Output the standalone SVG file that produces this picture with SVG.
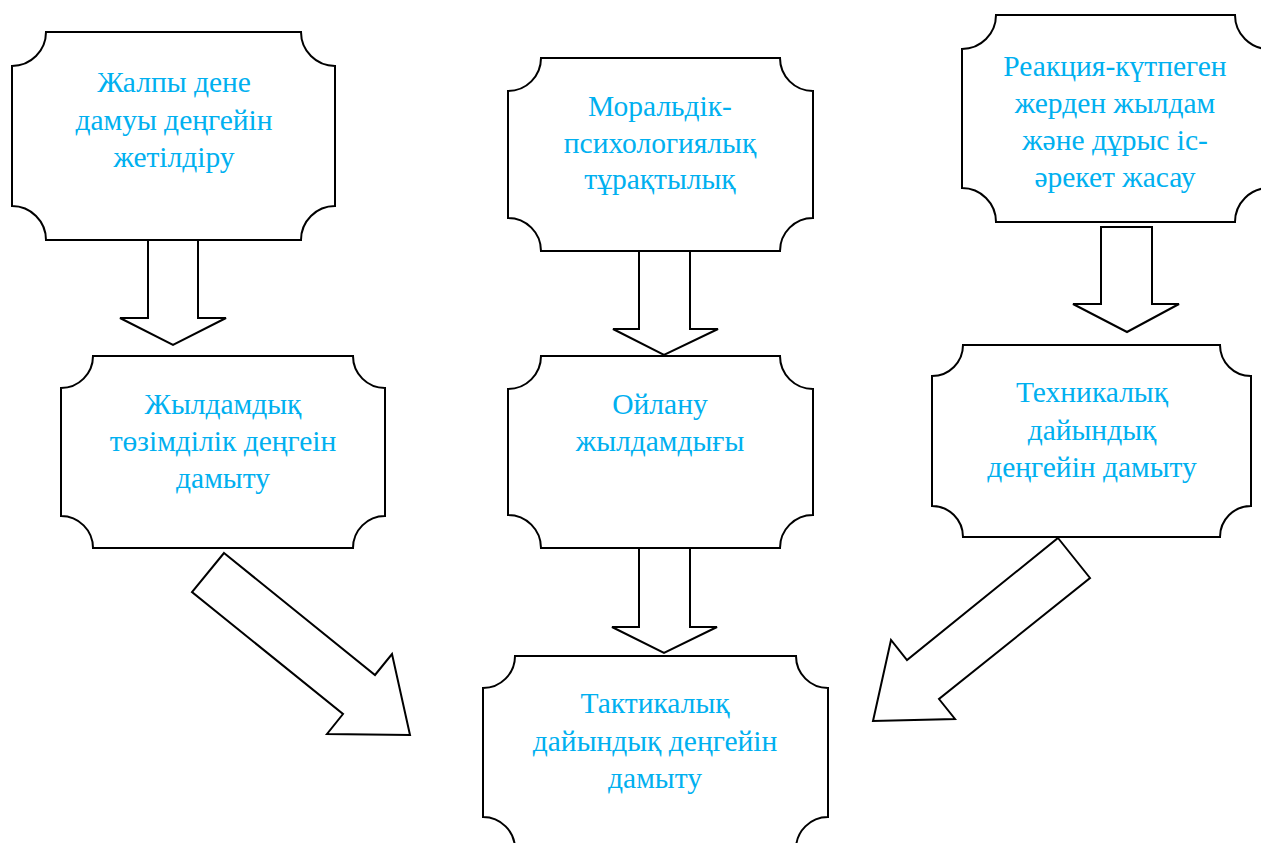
<svg xmlns="http://www.w3.org/2000/svg" width="1261" height="843" viewBox="0 0 1261 843">
<style>
.box{fill:#fff;stroke:#000;stroke-width:2}
.arr{fill:#fff;stroke:#000;stroke-width:2;stroke-linejoin:miter}
.t{font-family:"Liberation Serif","Times New Roman",serif;font-size:29.5px;fill:#00B0F0;text-anchor:middle}
</style>
<rect width="1261" height="843" fill="#fff"/>
<g id="connectors">
<polygon class="arr" points="148,240 198,240 198,318 226,318 173,345 120,318 148,318"/>
<polygon class="arr" points="639,251 690,251 690,329 718,329 664,355 613,329 639,329"/>
<polygon class="arr" points="1101,227 1152,227 1152,304 1179,304 1127,332 1073,304 1101,304"/>
<polygon class="arr" points="639,548 690,548 690,627 717,627 664,653 612,627 639,627"/>
<polygon class="arr" points="224,553 375,675 392,654 410,735 327,734 343,714 192,592"/>
<polygon class="arr" points="1058,538 1090,578 939,699 955,719 873,721 891,640 907,660"/>
</g>
<g id="n1">
<path class="box" d="M46,32 H301 A34,34 0 0 0 335,66 V206 A34,34 0 0 0 301,240 H46 A34,34 0 0 0 12,206 V66 A34,34 0 0 0 46,32 Z"/>
<text class="t" x="174" y="92">Жалпы дене</text>
<text class="t" x="174" y="130">дамуы деңгейін</text>
<text class="t" x="174" y="167">жетілдіру</text>
</g>
<g id="n2">
<path class="box" d="M541,58 H780 A33,33 0 0 0 813,91 V218 A33,33 0 0 0 780,251 H541 A33,33 0 0 0 508,218 V91 A33,33 0 0 0 541,58 Z"/>
<text class="t" x="660" y="116">Моральдік-</text>
<text class="t" x="660" y="153">психологиялық</text>
<text class="t" x="660" y="189">тұрақтылық</text>
</g>
<g id="n3">
<path class="box" d="M996,15 H1235 A34,34 0 0 0 1269,49 V188 A34,34 0 0 0 1235,222 H996 A34,34 0 0 0 962,188 V49 A34,34 0 0 0 996,15 Z"/>
<text class="t" x="1115" y="76">Реакция-күтпеген</text>
<text class="t" x="1115" y="113">жерден жылдам</text>
<text class="t" x="1115" y="150">және дұрыс іс-</text>
<text class="t" x="1115" y="187">әрекет жасау</text>
</g>
<g id="n4">
<path class="box" d="M93,356 H353 A32,32 0 0 0 385,388 V516 A32,32 0 0 0 353,548 H93 A32,32 0 0 0 61,516 V388 A32,32 0 0 0 93,356 Z"/>
<text class="t" x="223" y="414">Жылдамдық</text>
<text class="t" x="223" y="451">төзімділік деңгеін</text>
<text class="t" x="223" y="488">дамыту</text>
</g>
<g id="n5">
<path class="box" d="M541,356 H780 A33,33 0 0 0 813,389 V515 A33,33 0 0 0 780,548 H541 A33,33 0 0 0 508,515 V389 A33,33 0 0 0 541,356 Z"/>
<text class="t" x="660" y="414">Ойлану</text>
<text class="t" x="660" y="451">жылдамдығы</text>
</g>
<g id="n6">
<path class="box" d="M963,345 H1220 A31,31 0 0 0 1251,376 V506 A31,31 0 0 0 1220,537 H963 A31,31 0 0 0 932,506 V376 A31,31 0 0 0 963,345 Z"/>
<text class="t" x="1092" y="402">Техникалық</text>
<text class="t" x="1092" y="440">дайындық</text>
<text class="t" x="1092" y="477">деңгейін дамыту</text>
</g>
<g id="n7">
<path class="box" d="M515,656 H796 A32,32 0 0 0 828,688 V817 A32,32 0 0 0 796,849 H515 A32,32 0 0 0 483,817 V688 A32,32 0 0 0 515,656 Z"/>
<text class="t" x="655" y="713">Тактикалық</text>
<text class="t" x="655" y="751">дайындық деңгейін</text>
<text class="t" x="655" y="788">дамыту</text>
</g>
</svg>
